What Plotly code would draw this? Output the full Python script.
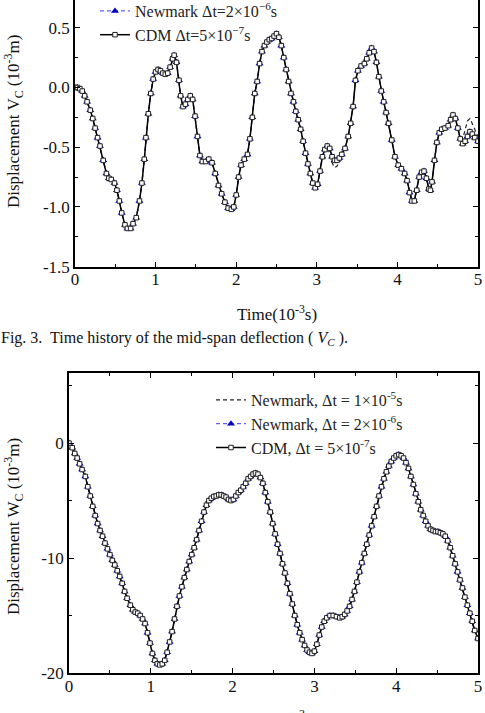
import plotly.graph_objects as go

# ---------------- Fig. 3 : mid-span deflection V_C (10^-3 m) ----------------
t_v = [0.00, 0.03, 0.06, 0.09, 0.12, 0.15, 0.19, 0.22, 0.25, 0.28, 0.31, 0.35, 0.39, 0.42, 0.45,
       0.49, 0.52, 0.55, 0.58, 0.62, 0.65, 0.69, 0.72, 0.76, 0.80, 0.83, 0.86, 0.88, 0.91, 0.94,
       0.97, 1.00, 1.03, 1.06, 1.09, 1.12, 1.15, 1.18, 1.21, 1.23, 1.26, 1.29, 1.31, 1.34, 1.37,
       1.40, 1.43, 1.46, 1.49, 1.52, 1.55, 1.58, 1.62, 1.66, 1.70, 1.74, 1.78, 1.82, 1.86, 1.90,
       1.94, 1.97, 2.00, 2.03, 2.06, 2.10, 2.14, 2.17, 2.20, 2.23, 2.26, 2.29, 2.32, 2.35, 2.38,
       2.41, 2.44, 2.47, 2.50, 2.53, 2.56, 2.59, 2.62, 2.65, 2.68, 2.71, 2.74, 2.77, 2.80, 2.83,
       2.86, 2.89, 2.92, 2.95, 2.98, 3.01, 3.04, 3.07, 3.10, 3.13, 3.16, 3.19, 3.22, 3.25, 3.28,
       3.31, 3.35, 3.39, 3.42, 3.45, 3.48, 3.51, 3.55, 3.59, 3.62, 3.65, 3.68, 3.71, 3.74, 3.77,
       3.80, 3.83, 3.86, 3.89, 3.93, 3.97, 4.01, 4.05, 4.09, 4.12, 4.15, 4.18, 4.21, 4.24, 4.27,
       4.30, 4.33, 4.36, 4.39, 4.41, 4.43, 4.46, 4.49, 4.52, 4.55, 4.59, 4.63, 4.66, 4.69, 4.72,
       4.75, 4.78, 4.81, 4.84, 4.87, 4.90, 4.93, 4.96, 5.00]

v_cdm = [0.00, 0.00, -0.01, -0.03, -0.07, -0.12, -0.19, -0.26, -0.34, -0.42, -0.49, -0.61, -0.72, -0.76, -0.77,
         -0.80, -0.86, -0.95, -1.05, -1.15, -1.18, -1.18, -1.14, -1.09, -0.95, -0.80, -0.60, -0.42, -0.22, -0.05,
         0.07, 0.13, 0.15, 0.14, 0.12, 0.11, 0.12, 0.17, 0.24, 0.27, 0.21, 0.06, -0.07, -0.16, -0.14,
         -0.10, -0.07, -0.10, -0.24, -0.41, -0.57, -0.62, -0.62, -0.60, -0.63, -0.72, -0.82, -0.89, -0.96, -1.01,
         -1.02, -1.00, -0.90, -0.75, -0.65, -0.60, -0.56, -0.43, -0.25, -0.05, 0.05, 0.20, 0.30, 0.35, 0.38,
         0.40, 0.41, 0.43, 0.45, 0.42, 0.35, 0.25, 0.15, 0.05, -0.05, -0.12, -0.20, -0.27, -0.35, -0.45,
         -0.55, -0.64, -0.72, -0.80, -0.84, -0.81, -0.70, -0.58, -0.52, -0.49, -0.51, -0.58, -0.61, -0.61, -0.59,
         -0.56, -0.51, -0.41, -0.30, -0.16, 0.06, 0.14, 0.18, 0.20, 0.24, 0.29, 0.33, 0.30, 0.21, 0.09,
         -0.03, -0.12, -0.21, -0.30, -0.44, -0.58, -0.65, -0.68, -0.72, -0.78, -0.88, -0.95, -0.95, -0.86, -0.75,
         -0.71, -0.70, -0.76, -0.85, -0.86, -0.79, -0.61, -0.46, -0.38, -0.35, -0.34, -0.32, -0.27, -0.23, -0.26,
         -0.34, -0.43, -0.47, -0.45, -0.41, -0.37, -0.39, -0.42, -0.45]

v_nm2 = list(v_cdm)

v_nm1 = [0.00, 0.00, -0.01, -0.03, -0.07, -0.12, -0.19, -0.26, -0.34, -0.42, -0.49, -0.61, -0.72, -0.76, -0.77,
         -0.80, -0.86, -0.95, -1.05, -1.15, -1.18, -1.18, -1.14, -1.09, -0.95, -0.80, -0.60, -0.42, -0.22, -0.05,
         0.07, 0.13, 0.15, 0.14, 0.12, 0.11, 0.12, 0.17, 0.24, 0.27, 0.21, 0.06, -0.07, -0.16, -0.14,
         -0.10, -0.07, -0.10, -0.24, -0.41, -0.57, -0.62, -0.62, -0.60, -0.63, -0.72, -0.82, -0.89, -0.96, -1.01,
         -1.02, -1.00, -0.90, -0.75, -0.65, -0.60, -0.56, -0.43, -0.25, -0.05, 0.05, 0.20, 0.30, 0.35, 0.38,
         0.40, 0.41, 0.43, 0.45, 0.42, 0.35, 0.25, 0.15, 0.05, -0.05, -0.12, -0.20, -0.27, -0.35, -0.45,
         -0.55, -0.64, -0.72, -0.80, -0.84, -0.81, -0.70, -0.58, -0.52, -0.50, -0.55, -0.63, -0.67, -0.66, -0.62,
         -0.57, -0.51, -0.41, -0.30, -0.16, 0.06, 0.14, 0.18, 0.20, 0.24, 0.29, 0.33, 0.30, 0.21, 0.09,
         -0.03, -0.12, -0.21, -0.30, -0.44, -0.58, -0.65, -0.68, -0.72, -0.78, -0.88, -0.95, -0.95, -0.86, -0.75,
         -0.71, -0.70, -0.76, -0.85, -0.86, -0.79, -0.61, -0.46, -0.38, -0.35, -0.34, -0.32, -0.27, -0.23, -0.26,
         -0.34, -0.42, -0.43, -0.36, -0.28, -0.26, -0.30, -0.35, -0.41]

# ---------------- Fig. 4 : W_C (10^-3 m) ----------------
t_w = [0.00, 0.04, 0.07, 0.10, 0.13, 0.16, 0.20, 0.23, 0.26, 0.29, 0.32, 0.35, 0.38, 0.41, 0.44,
       0.47, 0.50, 0.53, 0.56, 0.59, 0.62, 0.65, 0.68, 0.71, 0.75, 0.78, 0.81, 0.84, 0.87, 0.90,
       0.93, 0.96, 0.99, 1.02, 1.05, 1.08, 1.11, 1.14, 1.17, 1.20, 1.23, 1.26, 1.29, 1.32, 1.35,
       1.38, 1.41, 1.44, 1.47, 1.50, 1.53, 1.56, 1.59, 1.62, 1.65, 1.68, 1.71, 1.74, 1.77, 1.80,
       1.83, 1.86, 1.89, 1.92, 1.95, 1.98, 2.01, 2.04, 2.07, 2.10, 2.13, 2.16, 2.19, 2.22, 2.25,
       2.28, 2.31, 2.34, 2.37, 2.40, 2.43, 2.46, 2.49, 2.52, 2.55, 2.58, 2.61, 2.64, 2.67, 2.70,
       2.73, 2.76, 2.79, 2.82, 2.85, 2.88, 2.91, 2.94, 2.97, 3.00, 3.03, 3.06, 3.09, 3.12, 3.15,
       3.19, 3.23, 3.27, 3.31, 3.34, 3.37, 3.40, 3.43, 3.46, 3.49, 3.52, 3.55, 3.58, 3.61, 3.64,
       3.67, 3.70, 3.73, 3.76, 3.79, 3.82, 3.85, 3.88, 3.91, 3.94, 3.97, 4.00, 4.03, 4.06, 4.09,
       4.12, 4.15, 4.18, 4.21, 4.24, 4.27, 4.30, 4.33, 4.36, 4.39, 4.42, 4.45, 4.48, 4.51, 4.54,
       4.57, 4.60, 4.63, 4.66, 4.69, 4.72, 4.75, 4.78, 4.81, 4.84, 4.87, 4.90, 4.93, 4.96, 5.00]

w_cdm = [0.0, -0.4, -0.9, -1.3, -1.8, -2.3, -2.9, -3.8, -4.6, -5.5, -6.3, -7.0, -7.6, -8.1, -8.7,
         -9.2, -9.7, -10.2, -10.6, -11.1, -11.6, -12.2, -12.9, -13.5, -14.1, -14.5, -14.7, -14.8, -15.0, -15.3,
         -15.7, -16.5, -17.4, -18.3, -18.9, -19.2, -19.3, -19.2, -18.9, -18.2, -17.3, -16.4, -15.3, -14.2, -13.3,
         -12.5, -11.7, -11.0, -10.3, -9.7, -9.1, -8.4, -7.6, -6.8, -6.0, -5.4, -5.0, -4.8, -4.65, -4.6,
         -4.5, -4.5, -4.6, -4.7, -4.9, -5.0, -4.9, -4.6, -4.3, -4.1, -3.8, -3.5, -3.1, -2.9, -2.7,
         -2.6, -2.7, -3.0, -3.5, -4.3, -5.1, -6.0, -7.0, -7.9, -8.8, -9.6, -10.5, -11.3, -12.2, -13.1,
         -14.0, -15.0, -15.8, -16.5, -17.1, -17.6, -18.0, -18.2, -18.3, -18.1, -17.5, -16.7, -16.0, -15.5, -15.2,
         -15.0, -15.0, -15.1, -15.2, -15.1, -14.9, -14.6, -14.2, -13.6, -12.9, -12.1, -11.2, -10.4, -9.6, -8.8,
         -8.0, -7.2, -6.4, -5.5, -4.6, -3.8, -3.1, -2.5, -2.0, -1.6, -1.3, -1.1, -1.0, -1.1, -1.3,
         -1.7, -2.2, -2.9, -3.6, -4.4, -5.1, -5.8, -6.3, -6.8, -7.2, -7.5, -7.6, -7.7, -7.7, -7.8,
         -7.9, -8.1, -8.5, -9.1, -9.8, -10.5, -11.2, -11.9, -12.6, -13.4, -14.1, -14.8, -15.5, -16.3, -17.0]

w_nm2 = list(w_cdm)
w_nm1 = list(w_cdm)

# tick labels
x_ticks = [0, 1, 2, 3, 4, 5]
x_ticktext = ["0", "1", "2", "3", "4", "5"]
v_ticks = [-1.5, -1.0, -0.5, 0.0, 0.5]
v_ticktext = ["-1.5", "-1.0", "-0.5", "0.0", "0.5"]
w_ticks = [-20, -10, 0]
w_ticktext = ["-20", "-10", "0"]

# legend labels
name_nm1 = "Newmark, \u0394t = 1\u00d710<sup>-5</sup>s"
name_nm2_top = "Newmark \u0394t=2\u00d710<sup>\u22126</sup>s"
name_cdm_top = "CDM \u0394t=5\u00d710<sup>\u22127</sup>s"
name_nm2_bot = "Newmark, \u0394t = 2\u00d710<sup>-6</sup>s"
name_cdm_bot = "CDM, \u0394t = 5\u00d710<sup>-7</sup>s"

SERIF = "Liberation Serif, Times New Roman, serif"
W, H = 485, 713
BLUE_LINE = "#3b3bff"
BLUE_MK = "#0000c0"

fig = go.Figure()

def add_set(x, y1, y2, y3, xa, ya, leg, n1, n2, n3, show1):
    fig.add_trace(go.Scatter(x=x, y=y1, mode="lines", name=n1, xaxis=xa, yaxis=ya,
                             legend=leg, showlegend=show1,
                             line=dict(color="#222222", width=1.2, dash="4px,3px")))
    fig.add_trace(go.Scatter(x=x, y=y2, mode="lines+markers", name=n2, xaxis=xa, yaxis=ya,
                             legend=leg,
                             line=dict(color=BLUE_LINE, width=1.0, dash="4px,3px"),
                             marker=dict(symbol="triangle-up", size=7, color=BLUE_MK)))
    fig.add_trace(go.Scatter(x=x, y=y3, mode="lines+markers", name=n3, xaxis=xa, yaxis=ya,
                             legend=leg,
                             line=dict(color="black", width=1.5),
                             marker=dict(symbol="square", size=4.5, color="white",
                                         line=dict(color="#222222", width=1))))

add_set(t_v, v_nm1, v_nm2, v_cdm, "x", "y", "legend", name_nm1, name_nm2_top, name_cdm_top, False)
add_set(t_w, w_nm1, w_nm2, w_cdm, "x2", "y2", "legend2", name_nm1, name_nm2_bot, name_cdm_bot, True)

def px_x(p):
    return p / W

def px_y(p):
    return 1 - p / H

axis_common = dict(showline=True, linecolor="black", linewidth=1.5, ticks="inside",
                   ticklen=5, tickwidth=1.2, tickcolor="black", showgrid=False, zeroline=False,
                   tickfont=dict(family=SERIF, size=17, color="#111111"))

fig.update_layout(
    width=W, height=H, margin=dict(l=0, r=0, t=0, b=0, autoexpand=False),
    paper_bgcolor="white", plot_bgcolor="white",
    xaxis=dict(domain=[px_x(75), px_x(478)], range=[0, 5], anchor="y",
               tickvals=x_ticks, ticktext=x_ticktext, mirror=False, ticklabelstandoff=-4,
               minor=dict(ticks="inside", ticklen=3, dtick=0.5, tickcolor="black"),
               **axis_common),
    yaxis=dict(domain=[px_y(266.7), 1.0], range=[-1.5, 0.732], anchor="x",
               tickvals=v_ticks, ticktext=v_ticktext, mirror="ticks",
               minor=dict(ticks="inside", ticklen=3, dtick=0.25, tickcolor="black"),
               **axis_common),
    xaxis2=dict(domain=[px_x(69), px_x(478)], range=[0, 5], anchor="y2",
                tickvals=x_ticks, ticktext=x_ticktext, mirror="ticks", ticklabelstandoff=-3,
                minor=dict(ticks="inside", ticklen=3, dtick=0.5, tickcolor="black"),
                **axis_common),
    yaxis2=dict(domain=[px_y(673), px_y(373)], range=[-20, 6.1], anchor="x2",
                tickvals=w_ticks, ticktext=w_ticktext, mirror="ticks",
                minor=dict(ticks="inside", ticklen=3, dtick=5, tickcolor="black"),
                **axis_common),
    legend=dict(x=px_x(95), y=px_y(-6), xanchor="left", yanchor="top",
                bgcolor="rgba(0,0,0,0)", font=dict(family=SERIF, size=16, color="#222222"),
                tracegroupgap=0, itemwidth=30),
    legend2=dict(x=px_x(211), y=px_y(383), xanchor="left", yanchor="top",
                 bgcolor="rgba(0,0,0,0)", font=dict(family=SERIF, size=16, color="#222222"),
                 tracegroupgap=0, itemwidth=30),
    showlegend=True,
)

ann_font = dict(family=SERIF, size=17, color="#111111")
fig.add_annotation(text="Displacement V<sub>C</sub> (10<sup>-3</sup>m)", textangle=-90,
                   xref="paper", yref="paper", x=px_x(13), y=px_y(122),
                   xanchor="center", yanchor="middle", showarrow=False, font=ann_font)
fig.add_annotation(text="Time(10<sup>-3</sup>s)", xref="paper", yref="paper",
                   x=px_x(277), y=px_y(313), xanchor="center", yanchor="middle",
                   showarrow=False, font=ann_font)
fig.add_annotation(text="Fig. 3.  Time history of the mid-span deflection ( <i>V</i><sub><i>C</i></sub> ).",
                   xref="paper", yref="paper", x=px_x(-1), y=px_y(338), xanchor="left",
                   yanchor="middle", showarrow=False,
                   font=dict(family=SERIF, size=16, color="#111111"))
fig.add_annotation(text="Displacement W<sub>C</sub> (10<sup>-3</sup>m)", textangle=-90,
                   xref="paper", yref="paper", x=px_x(13), y=px_y(527),
                   xanchor="center", yanchor="middle", showarrow=False, font=ann_font)
fig.add_annotation(text="Time(10<sup>-3</sup>s)", xref="paper", yref="paper",
                   x=px_x(277), y=px_y(705), xanchor="center", yanchor="top",
                   showarrow=False, font=ann_font)

fig.write_html("out.html")
